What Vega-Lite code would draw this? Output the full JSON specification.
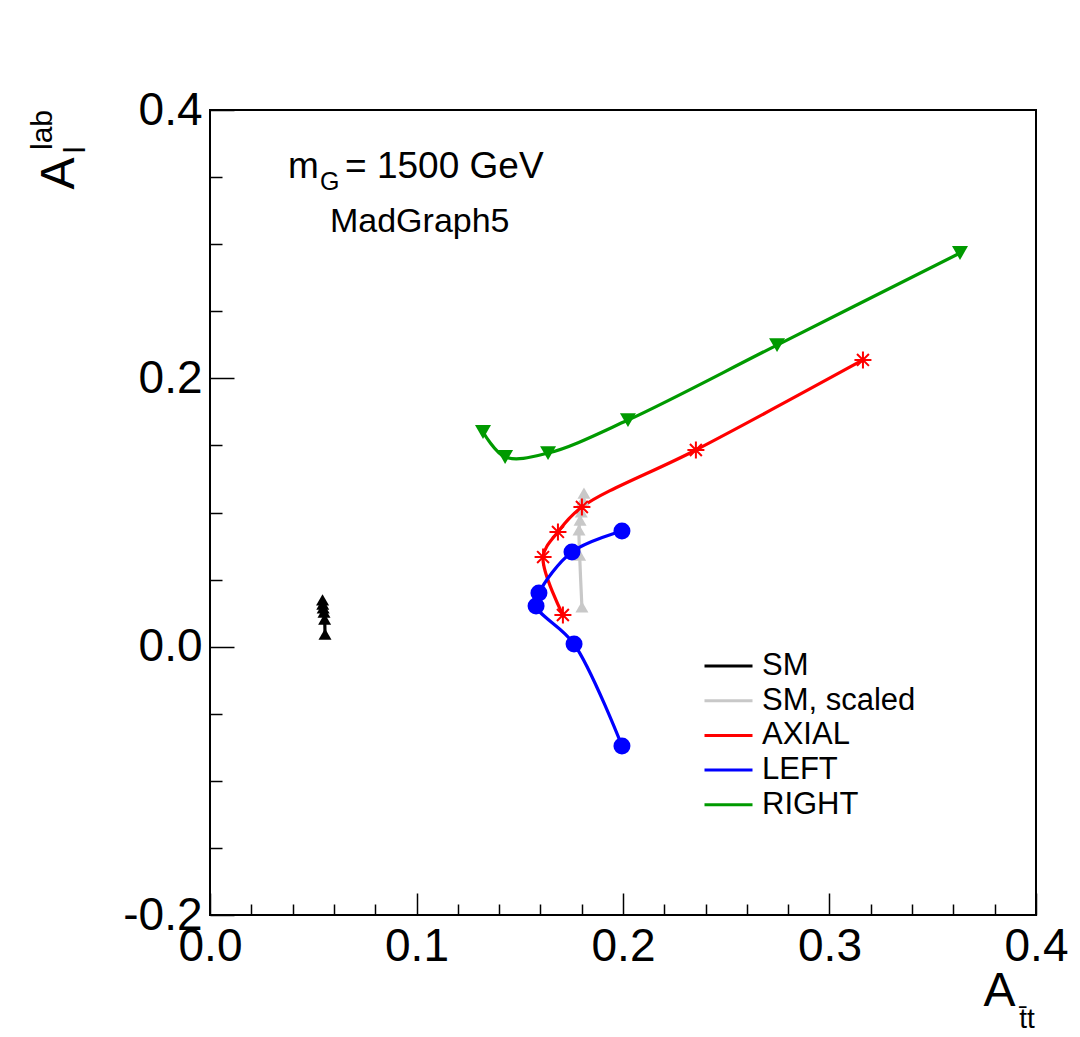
{
  "$schema": "https://vega.github.io/schema/vega-lite/v6.json",
  "width": 826,
  "height": 805,
  "autosize": {"type": "none"},
  "padding": {"left": 210, "top": 110, "right": 44, "bottom": 122},
  "background": "white",
  "config": {
    "view": {"stroke": "black", "strokeWidth": 2},
    "font": "Liberation Sans",
    "axis": {"grid": false, "domain": false, "tickColor": "black", "tickWidth": 1.5, "labelColor": "black", "titleColor": "black", "labelFont": "Liberation Sans", "titleFont": "Liberation Sans", "titleFontWeight": "normal"}
  },
  "datasets": {
    "curves": [
      {"series": "SM", "i": 1, "x": 0.0557, "y": 0.0094},
      {"series": "SM", "i": 2, "x": 0.0555, "y": 0.0206},
      {"series": "SM", "i": 3, "x": 0.0552, "y": 0.0258},
      {"series": "SM", "i": 4, "x": 0.0548, "y": 0.0289},
      {"series": "SM", "i": 5, "x": 0.0546, "y": 0.0318},
      {"series": "SM", "i": 6, "x": 0.0545, "y": 0.0348},
      {"series": "SM, scaled", "i": 1, "x": 0.1801, "y": 0.0296},
      {"series": "SM, scaled", "i": 2, "x": 0.1790, "y": 0.0683},
      {"series": "SM, scaled", "i": 3, "x": 0.1787, "y": 0.0870},
      {"series": "SM, scaled", "i": 4, "x": 0.1792, "y": 0.0944},
      {"series": "SM, scaled", "i": 5, "x": 0.1798, "y": 0.1004},
      {"series": "SM, scaled", "i": 6, "x": 0.1806, "y": 0.1093},
      {"series": "SM, scaled", "i": 7, "x": 0.1811, "y": 0.1145},
      {"series": "AXIAL", "i": 1, "x": 0.1709, "y": 0.0236},
      {"series": "AXIAL", "i": 2, "x": 0.1613, "y": 0.0668},
      {"series": "AXIAL", "i": 3, "x": 0.1685, "y": 0.0855},
      {"series": "AXIAL", "i": 4, "x": 0.1801, "y": 0.1041},
      {"series": "AXIAL", "i": 5, "x": 0.2353, "y": 0.1466},
      {"series": "AXIAL", "i": 6, "x": 0.3162, "y": 0.2137},
      {"series": "LEFT", "i": 1, "x": 0.1995, "y": 0.0862},
      {"series": "LEFT", "i": 2, "x": 0.1753, "y": 0.0706},
      {"series": "LEFT", "i": 3, "x": 0.1593, "y": 0.0400},
      {"series": "LEFT", "i": 4, "x": 0.1579, "y": 0.0303},
      {"series": "LEFT", "i": 5, "x": 0.1763, "y": 0.0020},
      {"series": "LEFT", "i": 6, "x": 0.1995, "y": -0.0740},
      {"series": "RIGHT", "i": 1, "x": 0.1322, "y": 0.1600},
      {"series": "RIGHT", "i": 2, "x": 0.1429, "y": 0.1414},
      {"series": "RIGHT", "i": 3, "x": 0.1637, "y": 0.1443},
      {"series": "RIGHT", "i": 4, "x": 0.2024, "y": 0.1689},
      {"series": "RIGHT", "i": 5, "x": 0.2746, "y": 0.2248},
      {"series": "RIGHT", "i": 6, "x": 0.3632, "y": 0.2934}
    ]
  },
  "encoding": {
    "x": {"field": "x", "type": "quantitative", "scale": {"domain": [0, 0.4], "nice": false, "zero": false},
      "axis": {"orient": "bottom", "values": [0, 0.02, 0.04, 0.06, 0.08, 0.1, 0.12, 0.14, 0.16, 0.18, 0.2, 0.22, 0.24, 0.26, 0.28, 0.3, 0.32, 0.34, 0.36, 0.38, 0.4],
        "tickSize": {"condition": {"test": "abs(datum.value * 10 - round(datum.value * 10)) < 0.001", "value": -22}, "value": -11},
        "labelExpr": "abs(datum.value * 10 - round(datum.value * 10)) < 0.001 ? format(datum.value, '.1f') : ''",
        "labelFontSize": 46, "labelPadding": 31, "labelFlush": false, "labelOverlap": false, "labelBound": false,
        "title": "A", "titleFontSize": 48, "titleX": 789, "titleY": 90, "titleAlign": "center", "titleBaseline": "alphabetic"}},
    "y": {"field": "y", "type": "quantitative", "scale": {"domain": [-0.2, 0.4], "nice": false, "zero": false},
      "axis": {"orient": "left", "values": [-0.2, -0.15, -0.1, -0.05, 0, 0.05, 0.1, 0.15, 0.2, 0.25, 0.3, 0.35, 0.4],
        "tickSize": {"condition": {"test": "abs(datum.value * 5 - round(datum.value * 5)) < 0.001", "value": -24}, "value": -12},
        "labelExpr": "abs(datum.value * 5 - round(datum.value * 5)) < 0.001 ? (datum.value < -0.001 ? '-' + format(-datum.value, '.1f') : format(abs(datum.value), '.1f')) : ''",
        "labelFontSize": 46, "labelPadding": 32, "labelFlush": false, "labelOverlap": false, "labelBound": false,
        "title": "A", "titleFontSize": 48, "titleX": -137, "titleY": 63, "titleAngle": 270, "titleAlign": "center", "titleBaseline": "alphabetic"}}
  },
  "layer": [
    {
      "data": {"name": "curves"},
      "mark": {"type": "line", "interpolate": "catmull-rom", "strokeWidth": 3.2},
      "encoding": {
        "order": {"field": "i", "type": "quantitative"},
        "color": {"field": "series", "type": "nominal",
          "scale": {"domain": ["SM", "SM, scaled", "AXIAL", "LEFT", "RIGHT"], "range": ["black", "#c8c8c8", "red", "blue", "#009a00"]},
          "legend": {"orient": "none", "legendX": 493, "legendY": 541, "title": null, "symbolType": "stroke", "symbolSize": 2304, "symbolStrokeWidth": 3, "labelFontSize": 31, "labelFont": "Liberation Sans", "labelColor": "black", "labelOffset": 8, "clipHeight": 30, "rowPadding": 3.7, "padding": 0, "labelLimit": 400}}
      }
    },
    {
      "data": {"name": "curves"},
      "transform": [{"filter": "datum.series === 'SM'"}],
      "mark": {"type": "point", "shape": "triangle-up", "filled": true, "opacity": 1, "size": 169, "color": "black"}
    },
    {
      "data": {"name": "curves"},
      "transform": [{"filter": "datum.series === 'SM, scaled'"}],
      "mark": {"type": "point", "shape": "triangle-up", "filled": true, "opacity": 1, "size": 169, "color": "#c8c8c8"}
    },
    {
      "data": {"name": "curves"},
      "transform": [{"filter": "datum.series === 'LEFT'"}],
      "mark": {"type": "point", "shape": "circle", "filled": true, "opacity": 1, "size": 289, "color": "blue"}
    },
    {
      "data": {"name": "curves"},
      "transform": [{"filter": "datum.series === 'RIGHT'"}],
      "mark": {"type": "point", "shape": "triangle-down", "filled": true, "opacity": 1, "size": 256, "color": "#009a00"}
    },
    {
      "data": {"name": "curves"},
      "transform": [{"filter": "datum.series === 'AXIAL'"}],
      "mark": {"type": "point", "filled": false, "shape": "M-1,0L1,0M0,-1L0,1M-0.7,-0.7L0.7,0.7M-0.7,0.7L0.7,-0.7", "size": 289, "strokeWidth": 2, "color": "red", "opacity": 1}
    },
    {
      "data": {"values": [{"label": "m", "x": 0.0378, "y": 0.3493}, {"label": "= 1500 GeV", "x": 0.0654, "y": 0.3493}]},
      "mark": {"type": "text", "align": "left", "baseline": "alphabetic", "fontSize": 37, "font": "Liberation Sans", "color": "black"},
      "encoding": {"text": {"field": "label"}}
    },
    {
      "data": {"values": [{"label": "G", "x": 0.0533, "y": 0.3405}]},
      "mark": {"type": "text", "align": "left", "baseline": "alphabetic", "fontSize": 25, "font": "Liberation Sans", "color": "black"},
      "encoding": {"text": {"field": "label"}}
    },
    {
      "data": {"values": [{"label": "MadGraph5", "x": 0.0581, "y": 0.309}]},
      "mark": {"type": "text", "align": "left", "baseline": "alphabetic", "fontSize": 34, "font": "Liberation Sans", "color": "black"},
      "encoding": {"text": {"field": "label"}}
    },
    {
      "data": {"values": [{"label": "lab", "x": -0.0765, "y": 0.3851}, {"label": "l", "x": -0.0605, "y": 0.3702}]},
      "mark": {"type": "text", "align": "center", "baseline": "alphabetic", "angle": 270, "fontSize": 30, "font": "Liberation Sans", "color": "black"},
      "encoding": {"text": {"field": "label"}}
    },
    {
      "data": {"values": [{"label": "t\u0304t", "x": 0.3956, "y": -0.2842}]},
      "mark": {"type": "text", "align": "center", "baseline": "alphabetic", "fontSize": 28, "font": "Liberation Sans", "color": "black"},
      "encoding": {"text": {"field": "label"}}
    }
  ]
}
